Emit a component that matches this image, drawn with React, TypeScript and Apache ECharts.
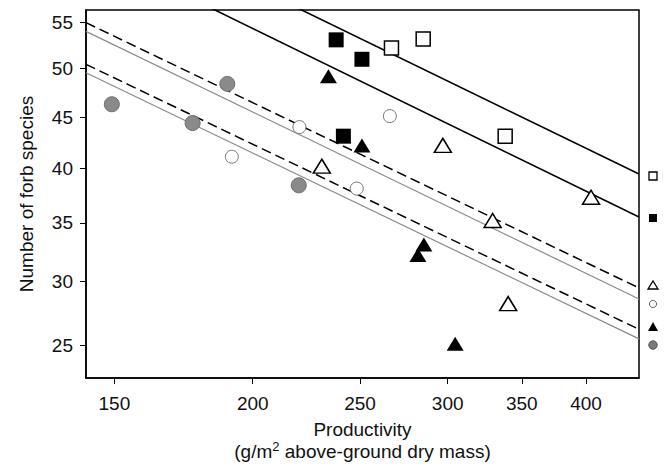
import React, { useEffect, useRef } from "react";
import * as echarts from "echarts";

// Tick labels
const productivityTicks = [150, 200, 250, 300, 350, 400];
const speciesTicks = [25, 30, 35, 40, 45, 50, 55];

// Axis ranges (productivity is log-scaled, species sqrt-scaled)
const productivityRange = [141.4, 446.6];
const speciesRange = [22.59, 56.41];

// Observations: productivity (g/m2) and number of forb species
const openSquareX = [266.9, 285.1, 338.1];
const openSquareY = [52.2, 53.2, 43.1];
const blackSquareX = [237.9, 251.0, 241.5];
const blackSquareY = [53.1, 51.0, 43.1];
const openTriangleX = [230.9, 297.0, 329.4, 404.2, 340.2];
const openTriangleY = [40.2, 42.2, 35.2, 37.3, 28.2];
const blackTriangleX = [234.1, 251.0, 285.5, 282.0, 304.7];
const blackTriangleY = [49.2, 42.2, 33.1, 32.2, 25.1];
const openCircleX = [191.5, 220.4, 248.3, 266.0];
const openCircleY = [41.1, 44.0, 38.1, 45.1];
const grayCircleX = [149.2, 176.5, 189.7, 220.1];
const grayCircleY = [46.3, 44.4, 48.4, 38.4];

// Fitted lines: species at the left and right ends of the productivity range
const lineOpenSquare = [68.83, 39.46];
const lineBlackSquare = [63.72, 35.51];
const lineOpenTriangle = [54.99, 29.46];
const lineOpenCircle = [54.03, 28.57];
const lineBlackTriangle = [50.46, 26.19];
const lineGrayCircle = [49.57, 25.46];

const FONT = "'Liberation Sans', Arial, Helvetica, sans-serif";
const tx = (v: number) => Math.log(v);
const ty = (v: number) => Math.sqrt(v);

function pts(xs: number[], ys: number[]) {
  return xs.map((x, i) => [tx(x), ty(ys[i])]);
}
function linePts(ends: number[]) {
  return [
    [tx(productivityRange[0]), ty(ends[0])],
    [tx(productivityRange[1]), ty(ends[1])],
  ];
}

export default function App() {
  const ref = useRef<HTMLDivElement>(null);
  useEffect(() => {
    if (!ref.current) return;
    const chart = echarts.init(ref.current, null, { renderer: "svg" });
    const scatter = (name: string, data: number[][], symbol: string, size: any, itemStyle: any) => ({
      name,
      type: "scatter",
      data,
      symbol,
      symbolSize: size,
      itemStyle,
      z: 5,
    });
    const line = (name: string, ends: number[], lineStyle: any) => ({
      name,
      type: "line",
      data: linePts(ends),
      showSymbol: false,
      symbol: "none",
      clip: true,
      lineStyle,
      z: 3,
    });
    const solid = { color: "#000", width: 1.6, type: "solid" };
    const dashed = { color: "#000", width: 1.5, type: [10, 5] };
    const gray = { color: "#8a8a8a", width: 1.2, type: "solid" };

    chart.setOption({
      animation: false,
      backgroundColor: "#fff",
      textStyle: { fontFamily: FONT },
      grid: {
        left: 86,
        right: 25,
        top: 10,
        bottom: 86,
        containLabel: false,
        outerBoundsMode: "none",
        show: true,
        borderColor: "#000",
        borderWidth: 1.5,
        backgroundColor: "transparent",
      },
      xAxis: {
        type: "value",
        min: tx(productivityRange[0]),
        max: tx(productivityRange[1]),
        splitLine: { show: false },
        axisLine: { show: true, lineStyle: { color: "#000", width: 1.5 } },
        axisTick: {
          show: true,
          length: 6,
          inside: false,
          customValues: productivityTicks.map(tx),
          lineStyle: { color: "#000", width: 1 },
        },
        axisLabel: {
          customValues: productivityTicks.map(tx),
          formatter: (v: number) => String(Math.round(Math.exp(v))),
          fontSize: 19,
          color: "#111",
          margin: 16,
          fontFamily: FONT,
        },
        name: "Productivity\n(g/m{sup|2} above-ground dry mass)",
        nameLocation: "middle",
        nameGap: 40,
        nameTextStyle: {
          fontSize: 19,
          color: "#111",
          lineHeight: 22,
          fontFamily: FONT,
          rich: {
            sup: { fontSize: 13, verticalAlign: "top", lineHeight: 22, padding: [0, 0, 6, 0], fontFamily: FONT, color: "#111" },
          },
        },
      },
      yAxis: {
        type: "value",
        min: ty(speciesRange[0]),
        max: ty(speciesRange[1]),
        splitLine: { show: false },
        axisLine: { show: true, lineStyle: { color: "#000", width: 1.5 } },
        axisTick: {
          show: true,
          length: 6,
          customValues: speciesTicks.map(ty),
          lineStyle: { color: "#000", width: 1 },
        },
        axisLabel: {
          customValues: speciesTicks.map(ty),
          formatter: (v: number) => String(Math.round(v * v)),
          fontSize: 19,
          color: "#111",
          margin: 13,
          fontFamily: FONT,
        },
        name: "Number of forb species",
        nameLocation: "middle",
        nameRotate: 90,
        nameGap: 50,
        nameTextStyle: { fontSize: 19, color: "#111", fontFamily: FONT },
      },
      series: [
        line("Open square fit", lineOpenSquare, solid),
        line("Black square fit", lineBlackSquare, solid),
        line("Open triangle fit", lineOpenTriangle, dashed),
        line("Open circle fit", lineOpenCircle, gray),
        line("Black triangle fit", lineBlackTriangle, dashed),
        line("Gray circle fit", lineGrayCircle, gray),
        scatter("Open square", pts(openSquareX, openSquareY), "rect", 14, {
          color: "#fff", borderColor: "#000", borderWidth: 1.5, opacity: 1,
        }),
        scatter("Black square", pts(blackSquareX, blackSquareY), "rect", 15, {
          color: "#000", borderColor: "#000", borderWidth: 0, opacity: 1,
        }),
        scatter("Open triangle", pts(openTriangleX, openTriangleY), "triangle", [17, 14], {
          color: "#fff", borderColor: "#000", borderWidth: 1.5, opacity: 1,
        }),
        scatter("Black triangle", pts(blackTriangleX, blackTriangleY), "triangle", [17, 14], {
          color: "#000", borderColor: "#000", borderWidth: 0, opacity: 1,
        }),
        scatter("Open circle", pts(openCircleX, openCircleY), "circle", 13, {
          color: "#fff", borderColor: "#777", borderWidth: 1, opacity: 1,
        }),
        scatter("Gray circle", pts(grayCircleX, grayCircleY), "circle", 15, {
          color: "#8a8a8a", borderColor: "#6e6e6e", borderWidth: 1, opacity: 1,
        }),
      ],
      graphic: [
        { type: "rect", shape: { x: 649, y: 172, width: 8, height: 8 }, style: { fill: "#fff", stroke: "#000", lineWidth: 1.3 } },
        { type: "rect", shape: { x: 649, y: 214, width: 8, height: 8 }, style: { fill: "#000" } },
        { type: "polygon", shape: { points: [[648, 289], [658, 289], [653, 281]] }, style: { fill: "#fff", stroke: "#000", lineWidth: 1.3 } },
        { type: "circle", shape: { cx: 653, cy: 304, r: 3.6 }, style: { fill: "#fff", stroke: "#666", lineWidth: 1 } },
        { type: "polygon", shape: { points: [[648, 331], [658, 331], [653, 322]] }, style: { fill: "#000" } },
        { type: "circle", shape: { cx: 653, cy: 345, r: 4.2 }, style: { fill: "#7a7a7a", stroke: "#555", lineWidth: 1 } },
      ],
    });
    return () => chart.dispose();
  }, []);
  return (
    <div
      ref={ref}
      style={{ position: "absolute", left: 0, top: 0, width: 664, height: 464 }}
    />
  );
}
